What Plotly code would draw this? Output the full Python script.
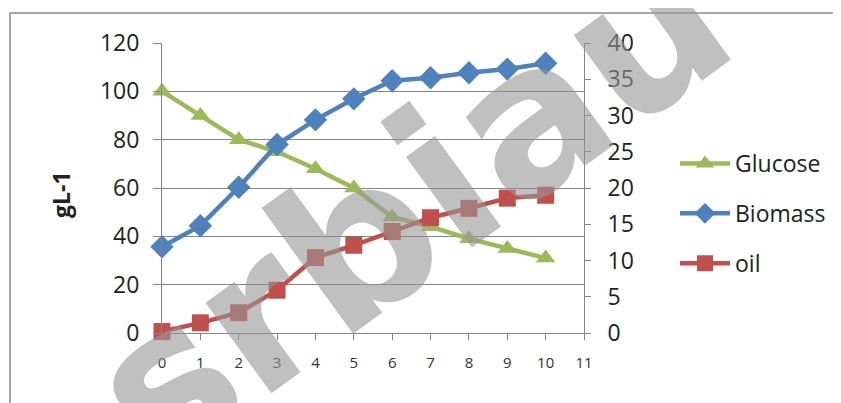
import plotly.graph_objects as go

x_vals = list(range(11))
glucose = [100, 90, 80, 75, 68, 60, 48, 44, 39, 35, 31]
biomass = [11.9, 14.8, 20.1, 26.0, 29.4, 32.3, 34.8, 35.2, 35.9, 36.4, 37.2]
oil = [0.2, 1.4, 2.8, 5.9, 10.4, 12.1, 14.0, 15.9, 17.2, 18.6, 19.0]
x_ticks = list(range(12))
y1_ticks = [0, 20, 40, 60, 80, 100, 120]
y2_ticks = [0, 5, 10, 15, 20, 25, 30, 35, 40]

OFF = 8  # page body margin
W, H = 841 - OFF, 403 - OFF
L, T = 162 - OFF, 43 - OFF
pw, ph = 422, 290
R, B = W - L - pw, H - T - ph

def px(xp):  # page pixel -> paper x
    return (xp - OFF - L) / pw

def py(yp):  # page pixel -> paper y
    return (H - B - (yp - OFF)) / ph

GREEN = "#9BBB59"
BLUE = "#4F81BD"
RED = "#C0504D"
AX = "#868686"
FONT = "Open Sans"

fig = go.Figure()
fig.add_trace(go.Scatter(x=x_vals, y=glucose, name="Glucose", mode="lines+markers",
                         line=dict(color=GREEN, width=4.5),
                         marker=dict(symbol="triangle-up", size=17, color=GREEN),
                         cliponaxis=False, legendgroup="g"))
fig.add_trace(go.Scatter(x=x_vals, y=biomass, name="Biomass", mode="lines+markers",
                         line=dict(color=BLUE, width=4.5),
                         marker=dict(symbol="diamond", size=18, color=BLUE),
                         yaxis="y2", cliponaxis=False, legendgroup="b"))
fig.add_trace(go.Scatter(x=x_vals, y=oil, name="oil", mode="lines+markers",
                         line=dict(color=RED, width=4.5),
                         marker=dict(symbol="square", size=17, color=RED),
                         yaxis="y2", cliponaxis=False, legendgroup="o"))

fig.update_layout(
    width=W, height=H,
    margin=dict(l=L, r=R, t=T, b=B, autoexpand=False),
    paper_bgcolor="white", plot_bgcolor="white",
    font=dict(family=FONT, color="#222"),
    xaxis=dict(range=[0, 11], tickvals=x_ticks, showgrid=False, zeroline=False,
               showline=True, linecolor=AX, linewidth=1, ticks="outside",
               ticklen=6, tickcolor=AX, tickfont=dict(size=15, color="#333"),
               ticklabelstandoff=10, automargin=False),
    yaxis=dict(range=[0, 120], tickvals=y1_ticks, showgrid=True, gridcolor=AX,
               gridwidth=1, zeroline=False, showline=True, linecolor=AX,
               linewidth=1, ticks="outside", ticklen=8, tickcolor=AX,
               tickfont=dict(size=23, color="#222"), ticklabelstandoff=9,
               automargin=False),
    yaxis2=dict(range=[0, 40], tickvals=y2_ticks, overlaying="y", side="right",
                showgrid=False, zeroline=False, showline=True, linecolor=AX,
                linewidth=1, ticks="outside", ticklen=6, tickcolor=AX,
                ticklabelstandoff=12, automargin=False,
                tickfont=dict(size=23, color="#222")),
    legend=dict(x=px(675), y=py(142), xanchor="left", yanchor="top",
                font=dict(size=23, color="#222"), tracegroupgap=17,
                itemwidth=50,
                traceorder="grouped", bgcolor="rgba(0,0,0,0)"),
    showlegend=True,
)

fig.add_annotation(text="<b>gL-1</b>", xref="paper", yref="paper",
                   x=px(61), y=py(195), xanchor="center", yanchor="middle",
                   textangle=-90, showarrow=False,
                   font=dict(size=23, color="#222", family=FONT))

fig.add_shape(type="rect", xref="paper", yref="paper",
              x0=px(10), x1=px(870), y0=py(430), y1=py(13),
              line=dict(color="#8a8a8a", width=1.5), layer="below")

fig.add_annotation(text="<b>srbiau</b>", xref="paper", yref="paper",
                   x=px(410), y=py(205), xanchor="center", yanchor="middle",
                   textangle=-36, showarrow=False,
                   font=dict(size=205, color="rgba(150,150,150,0.6)", family="DejaVu Sans"))

fig.write_html("out.html")
